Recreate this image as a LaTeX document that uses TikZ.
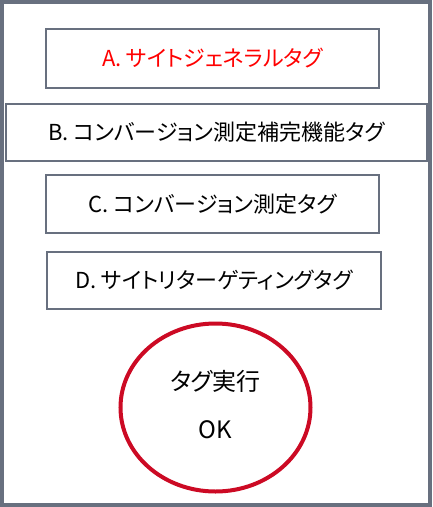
\documentclass[tikz,border=0pt]{standalone}
\usepackage{fontspec}
\usetikzlibrary{shapes.geometric}
\setmainfont{Noto Sans CJK JP}[RawFeature=+palt]
\definecolor{framegray}{RGB}{104,112,127}
\definecolor{ellred}{RGB}{204,10,36}
\definecolor{txtred}{RGB}{255,0,0}
\begin{document}
\begin{tikzpicture}[x=1pt,y=-1pt,
  tagbox/.style={draw=framegray,line width=1.6pt,inner sep=0pt,font=\fontsize{22}{24}\selectfont},
  oktext/.style={font=\fontsize{24}{28}\selectfont},
]
\useasboundingbox (0,0) rectangle (432,507);
\draw[framegray,line width=4pt] (2,2) rectangle (430,505);
\node[tagbox,minimum width=333,minimum height=59,text=txtred] (A) at (212.5,58.5) {A. サイトジェネラルタグ};
\node[tagbox,minimum width=421,minimum height=57] (B) at (216.5,132.5) {B. コンバージョン測定補完機能タグ};
\node[tagbox,minimum width=333,minimum height=58] (C) at (212.5,204) {C. コンバージョン測定タグ};
\node[tagbox,minimum width=334,minimum height=57] (D) at (214,280.5) {D. サイトリターゲティングタグ};
\node[draw=ellred,line width=4pt,ellipse,minimum width=190,minimum height=168,inner sep=0pt] (E) at (215.5,407.5) {};
\node[oktext] (E1) at (215.5,381) {タグ実行};
\node[oktext] (E2) at (215.5,430) {OK};
\end{tikzpicture}
\end{document}
